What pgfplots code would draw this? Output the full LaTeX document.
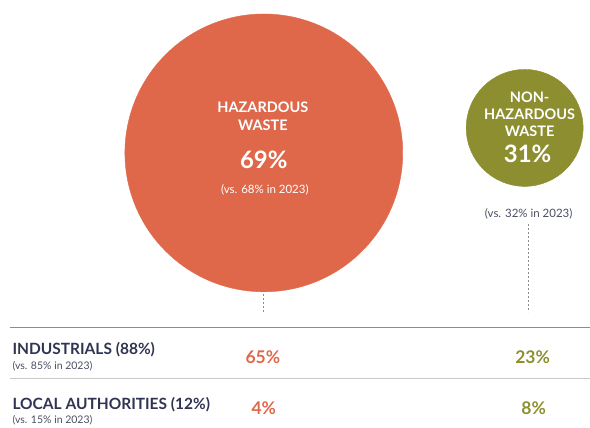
\documentclass[border=0pt]{standalone}
\usepackage{pgfplots}
\pgfplotsset{compat=1.18}
\usepackage{fontspec}
\setmainfont{Lato}

\definecolor{haz}{HTML}{DF684B}
\definecolor{nonhaz}{HTML}{8D8E30}
\definecolor{navy}{HTML}{2F3452}
\definecolor{rule}{HTML}{8C8C8C}
\definecolor{rulelt}{HTML}{C9C9C9}
\definecolor{note}{HTML}{4A4E63}

\newcommand{\fs}[1]{\fontsize{#1}{#1}\selectfont}

\begin{document}
\begin{tikzpicture}
\begin{axis}[
  scale only axis, width=590pt, height=425pt,
  xmin=0, xmax=590, ymin=0, ymax=425, y dir=reverse,
  hide axis, clip=false, set layers,
]
\path (rel axis cs:0,0) rectangle (rel axis cs:1,1);

% bubbles (centre x, centre y in pixel units; radius as mark size)
\addplot[only marks, mark=*, mark size=139pt, color=haz] coordinates {(264,153)};
\addplot[only marks, mark=*, mark size=58.5pt, color=nonhaz] coordinates {(525,128)};

% dashed leaders
\addplot[rule, thin, dash pattern=on 2pt off 2pt] coordinates {(263,294) (263,312)};
\addplot[rule, thin, dash pattern=on 2pt off 2pt] coordinates {(529,224) (529,312)};

% table rules
\addplot[rule, line width=0.8pt] coordinates {(10,328) (590,328)};
\addplot[rulelt, line width=0.8pt] coordinates {(10,379) (590,379)};

\begin{pgfonlayer}{axis foreground}
% bubble labels
\node[white, font=\bfseries\fs{14.5}] at (axis cs:263,107) {HAZARDOUS};
\node[white, font=\bfseries\fs{14.5}] at (axis cs:263,125) {WASTE};
\node[white, font=\bfseries\fs{24}] at (axis cs:264,160) {69\%};
\node[white, font=\fs{11.5}] at (axis cs:265,190) {(vs. 68\% in 2023)};

\node[white, font=\bfseries\fs{14.5}] at (axis cs:530,97) {NON-};
\node[white, font=\bfseries\fs{14.5}] at (axis cs:530,114) {HAZARDOUS};
\node[white, font=\bfseries\fs{14.5}] at (axis cs:530,131) {WASTE};
\node[white, font=\bfseries\fs{24}] at (axis cs:528,154) {31\%};
\node[note, font=\fs{11.5}] at (axis cs:529,214) {(vs. 32\% in 2023)};

% rows
\node[navy, anchor=west, font=\bfseries\fs{15.5}] at (axis cs:9,350) {INDUSTRIALS (88\%)};
\node[note, anchor=west, font=\fs{10.5}] at (axis cs:9,366) {(vs. 85\% in 2023)};
\node[navy, anchor=west, font=\bfseries\fs{15.5}] at (axis cs:9,405) {LOCAL AUTHORITIES (12\%)};
\node[note, anchor=west, font=\fs{10.5}] at (axis cs:9,420) {(vs. 15\% in 2023)};

\node[haz, font=\bfseries\fs{17.5}] at (axis cs:263,357) {65\%};
\node[haz, font=\bfseries\fs{17.5}] at (axis cs:264,408) {4\%};
\node[nonhaz, font=\bfseries\fs{17.5}] at (axis cs:533,357) {23\%};
\node[nonhaz, font=\bfseries\fs{17.5}] at (axis cs:534,408) {8\%};
\end{pgfonlayer}
\end{axis}
\end{tikzpicture}
\end{document}
